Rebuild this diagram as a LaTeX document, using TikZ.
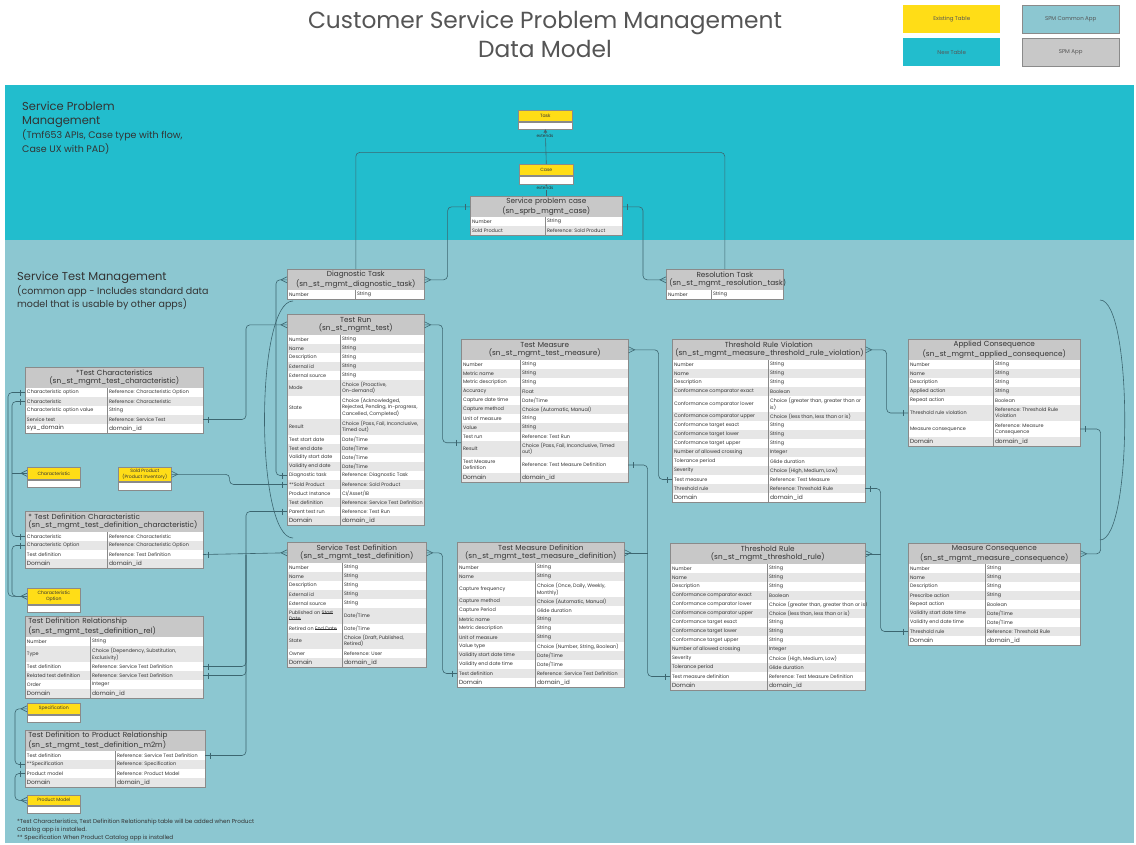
\documentclass[tikz,border=0pt]{standalone}
\usepackage{fontspec}
\setmainfont{Poppins}
\usetikzlibrary{calc,arrows.meta}
\definecolor{spmc}{HTML}{22BDCD}
\definecolor{stmc}{HTML}{8CC7D1}
\definecolor{yel}{HTML}{FFDD17}
\definecolor{hdrc}{HTML}{C8C8C8}
\definecolor{altc}{HTML}{E6E6E6}
\definecolor{bordc}{HTML}{8A8A8A}
\definecolor{linec}{HTML}{3C6670}
\definecolor{txtc}{HTML}{333333}
\definecolor{titlec}{HTML}{555555}
\newcommand\strk[1]{\setbox0=\hbox{#1}\rlap{\rule[0.27em]{\wd0}{0.3pt}}\box0}
\tikzset{
 hdr/.style={fill=hdrc, draw=bordc, line width=0.6pt, inner sep=0pt, font=\fontsize{7.3}{8.6}\selectfont, text=txtc},
 rowtxt/.style={inner sep=0pt, font=\fontsize{4.9}{5.8}\selectfont, text=txtc, align=left},
 domtxt/.style={inner sep=0pt, font=\fontsize{5.9}{7}\selectfont, text=txtc, align=left},
 tborder/.style={draw=bordc, line width=0.6pt},
 exist/.style={fill=yel, draw=bordc, line width=0.6pt, inner sep=0pt, font=\fontsize{4.6}{5.6}\selectfont, text=txtc, align=center, anchor=north west},
 exbody/.style={fill=white, draw=bordc, line width=0.6pt, inner sep=0pt, anchor=north},
 conn/.style={draw=linec, line width=0.6pt, rounded corners=4pt},
 legend/.style={inner sep=0pt, minimum width=97, minimum height=28, font=\fontsize{5.5}{6.5}\selectfont, text=titlec, anchor=north west},
 extl/.style={inner sep=0.5pt, fill=spmc, font=\fontsize{4.3}{5}\selectfont, text=txtc},
 rowsty/.style={rowtxt},
}
\newcommand\tbl[7]{%
  \xdef\tname{#1}\xdef\tx{#2}\xdef\tw{#4}\xdef\tsp{#5}\xdef\ytop{#3}%
  \pgfmathsetmacro\tmp{#3+21}\xdef\cury{\tmp}\xdef\rowi{0}%
  \pgfmathsetmacro\hw{#4-6}%
  \node[hdr, minimum width=#4, minimum height=21, anchor=north west, text width=\hw pt, align=#7] (#1) at (#2,#3) {#6};%
}
\newcommand\erow[3]{%
  \pgfmathsetmacro\rh{ifthenelse(#3==2,16,ifthenelse(#3==3,23,9))}%
  \pgfmathtruncatemacro\ri{\rowi+1}\xdef\rowi{\ri}%
  \pgfmathsetmacro\my{\cury+\rh/2}%
  \ifodd\ri\relax\def\rfc{white}\else\def\rfc{altc}\fi
  \ifnum#3=0 \tikzset{rowsty/.style={domtxt}}\else\tikzset{rowsty/.style={rowtxt}}\fi
  \fill[\rfc] (\tx,\cury) rectangle ++(\tw,\rh);
  \node[rowsty, anchor=west] at (\tx+1.8,\my) {#1};
  \node[rowsty, anchor=west] at (\tx+\tsp+1.8,\my) {#2};
  \coordinate (\tname-l\ri) at (\tx,\my);
  \coordinate (\tname-r\ri) at (\tx+\tw,\my);
  \pgfmathsetmacro\tmp{\cury+\rh}\xdef\cury{\tmp}%
}
\newcommand\tend{%
  \draw[tborder] (\tx+\tsp,\ytop+21) -- (\tx+\tsp,\cury);
  \draw[tborder] (\tx,\ytop) rectangle (\tx+\tw,\cury);
}
\newcommand\crowW[1]{\draw[linec, line width=0.6pt] ($(#1)+(0,-3)$) -- ($(#1)+(-6,0)$) -- ($(#1)+(0,3)$);}
\newcommand\crowE[1]{\draw[linec, line width=0.6pt] ($(#1)+(0,-3)$) -- ($(#1)+(6,0)$) -- ($(#1)+(0,3)$);}
\newcommand\tickW[1]{\draw[linec, line width=0.6pt] ($(#1)+(-5,-3)$) -- ($(#1)+(-5,3)$);}
\newcommand\tickE[1]{\draw[linec, line width=0.6pt] ($(#1)+(5,-3)$) -- ($(#1)+(5,3)$);}
\newcommand\exbox[7]{% name x y w hh bh text
  \node[exist, minimum width=#4, minimum height=#5] (#1) at (#2,#3) {#7};
  \node[exbody, minimum width=#4, minimum height=#6] (#1b) at (#1.south) {};
}
\begin{document}
\begin{tikzpicture}[x=1pt,y=-1pt]
\useasboundingbox (0,0) rectangle (1136,844);
\fill[white] (0,0) rectangle (1136,844);
% regions
\fill[spmc] (5,85) rectangle (1134,240);
\fill[stmc] (5,240) rectangle (1134,843);
% title
\node[font=\fontsize{23.3}{29}\selectfont, text=titlec, align=center] (title) at (545,34) {Customer Service Problem Management\\Data Model};
% legend
\node[legend, fill=yel] (lg1) at (903,5) {Existing Table};
\node[legend, fill=spmc] (lg2) at (903,38) {New Table};
\node[legend, fill=stmc, draw=bordc] (lg3) at (1022,5) {SPM Common App};
\node[legend, fill=hdrc, draw=bordc] (lg4) at (1022,38) {SPM App};
% region labels
\node[anchor=north west, align=left, inner sep=0pt, text=txtc, font=\fontsize{11.5}{14}\selectfont] (spmlbl) at (22,102) {Service Problem\\Management\\{\fontsize{9.5}{14}\selectfont(Tmf653 APIs, Case type with flow,}\\{\fontsize{9.5}{14}\selectfont Case UX with PAD)}};
\node[anchor=north west, align=left, inner sep=0pt, text=txtc, font=\fontsize{11.5}{13.5}\selectfont] (stmlbl) at (17,272) {Service Test Management\\{\fontsize{9.5}{13.5}\selectfont(common app - Includes standard data}\\{\fontsize{9.5}{13.5}\selectfont model that is usable by other apps)}};
% footer
\node[anchor=north west, align=left, inner sep=0pt, text=txtc, font=\fontsize{5.75}{8}\selectfont] (foot) at (17,819) {*Test Characteristics, Test Definition Relationship table will be added when Product\\Catalog app is installed.\\** Specification When Product Catalog app is installed};

% decorative arcs
\coordinate (aL1) at (293,301); \coordinate (aL2) at (293,538);
\draw[linec, line width=0.6pt] (aL1) .. controls (255,301) and (255,538) .. (aL2);
\coordinate (aR1) at (1100,300); \coordinate (aR2) at (1100,540);
\draw[linec, line width=0.6pt] (aR1) .. controls (1133,300) and (1133,540) .. (aR2);

% existing tables
\exbox{task}{518}{110}{54}{11}{7}{Task}
\exbox{case}{519}{164}{54}{11}{8}{Case}
\exbox{charh}{27}{467}{53}{12}{7}{Characteristic}
\exbox{soldh}{118}{467}{53}{14}{8}{Sold Product\\(Product Inventory)}
\exbox{choh}{27}{588}{53}{16}{7}{Characteristic\\Option}
\exbox{spech}{27}{703}{53}{11}{7}{Specification}
\exbox{pmh}{27}{795}{53}{10}{7}{Product Model}

% tables
\tbl{spc}{470}{196}{152}{75}{Service problem case\\(sn\_sprb\_mgmt\_case)}{center}
\erow{Number}{String}{1}
\erow{Sold Product}{Reference: Sold Product}{1}
\tend

\tbl{diag}{287}{269}{137}{68}{Diagnostic Task\\(sn\_st\_mgmt\_diagnostic\_task)}{center}
\erow{Number}{String}{1}
\tend

\tbl{res}{666}{269}{117}{45}{Resolution Task\\(sn\_st\_mgmt\_resolution\_task)}{center}
\erow{Number}{String}{1}
\tend

\tbl{trun}{287}{314}{137}{53}{Test Run\\(sn\_st\_mgmt\_test)}{center}
\erow{Number}{String}{1}
\erow{Name}{String}{1}
\erow{Description}{String}{1}
\erow{External id}{String}{1}
\erow{External source}{String}{1}
\erow{Mode}{Choice (Proactive,\\On-demand)}{2}
\erow{State}{Choice (Acknowledged,\\Rejected, Pending, In-progress,\\Cancelled, Completed)}{3}
\erow{Result}{Choice (Pass, Fail, Inconclusive,\\Timed out)}{2}
\erow{Test start date}{Date/Time}{1}
\erow{Test end date}{Date/Time}{1}
\erow{Validity start date}{Date/Time}{1}
\erow{Validity end date}{Date/Time}{1}
\erow{Diagnostic task}{Reference: Diagnostic Task}{1}
\erow{**Sold Product}{Reference: Sold Product}{1}
\erow{Product Instance}{CI/Asset/IB}{1}
\erow{Test definition}{Reference: Service Test Definition}{1}
\erow{Parent test run}{Reference: Test Run}{1}
\erow{Domain}{domain\_id}{0}
\tend

\tbl{tm}{461}{339}{167}{59}{Test Measure\\(sn\_st\_mgmt\_test\_measure)}{center}
\erow{Number}{String}{1}
\erow{Metric name}{String}{1}
\erow{Metric description}{String}{1}
\erow{Accuracy}{Float}{1}
\erow{Capture date time}{Date/Time}{1}
\erow{Capture method}{Choice (Automatic, Manual)}{1}
\erow{Unit of measure}{String}{1}
\erow{Value}{String}{1}
\erow{Test run}{Reference: Test Run}{1}
\erow{Result}{Choice (Pass, Fail, Inconclusive, Timed\\out)}{2}
\erow{Test Measure\\Definition}{Reference:  Test Measure Definition}{2}
\erow{Domain}{domain\_id}{0}
\tend

\tbl{trv}{672}{339}{193}{96}{Threshold Rule Violation\\(sn\_st\_mgmt\_measure\_threshold\_rule\_violation)}{center}
\erow{Number}{String}{1}
\erow{Name}{String}{1}
\erow{Description}{String}{1}
\erow{Conformance comparator exact}{Boolean}{1}
\erow{Conformance comparator lower}{Choice (greater than, greater than or\\is)}{2}
\erow{Conformance comparator upper}{Choice (less than, less than or is)}{1}
\erow{Conformance target exact}{String}{1}
\erow{Conformance target lower}{String}{1}
\erow{Conformance target upper}{String}{1}
\erow{Number of allowed crossing}{Integer}{1}
\erow{Tolerance period}{Glide duration}{1}
\erow{Severity}{Choice (High, Medium, Low)}{1}
\erow{Test measure}{Reference: Test Measure}{1}
\erow{Threshold rule}{Reference: Threshold Rule}{1}
\erow{Domain}{domain\_id}{0}
\tend

\tbl{ac}{908}{339}{172}{85}{Applied Consequence\\(sn\_st\_mgmt\_applied\_consequence)}{center}
\erow{Number}{String}{1}
\erow{Name}{String}{1}
\erow{Description}{String}{1}
\erow{Applied action}{String}{1}
\erow{Repeat action}{Boolean}{1}
\erow{Threshold rule violation}{Reference: Threshold Rule\\Violation}{2}
\erow{Measure consequence}{Reference: Measure\\Consequence}{2}
\erow{Domain}{domain\_id}{0}
\tend

\tbl{tc}{25}{367}{178}{82}{*Test Characteristics\\(sn\_st\_mgmt\_test\_characteristic)}{center}
\erow{Characteristic option}{Reference: Characteristic Option}{1}
\erow{Characteristic}{Reference: Characteristic}{1}
\erow{Characteristic option value}{String}{1}
\erow{Service test}{Reference: Service Test}{1}
\erow{sys\_domain}{domain\_id}{0}
\tend

\tbl{tdc}{25}{511}{178}{82}{* Test Definition Characteristic\\(sn\_st\_mgmt\_test\_definition\_characteristic)}{left}
\erow{Characteristic}{Reference: Characteristic}{1}
\erow{Characteristic Option}{Reference: Characteristic Option}{1}
\erow{Test definition}{Reference: Test Definition}{1}
\erow{Domain}{domain\_id}{0}
\tend

\tbl{tdr}{25}{616}{178}{65}{Test Definition Relationship\\(sn\_st\_mgmt\_test\_definition\_rel)}{left}
\erow{Number}{String}{1}
\erow{Type}{Choice (Dependency, Substitution,\\Exclusivity)}{2}
\erow{Test definition}{Reference: Service Test Definition}{1}
\erow{Related test definition}{Reference: Service Test Definition}{1}
\erow{Order}{Integer}{1}
\erow{Domain}{domain\_id}{0}
\tend

\tbl{tdp}{25}{730}{180}{90}{Test Definition to Product Relationship\\(sn\_st\_mgmt\_test\_definition\_m2m)}{left}
\erow{Test definition}{Reference: Service Test Definition}{1}
\erow{**Specification}{Reference: Specification}{1}
\erow{Product model}{Reference: Product Model}{1}
\erow{Domain}{domain\_id}{0}
\tend

\tbl{std}{287}{542}{139}{55}{Service Test Definition\\(sn\_st\_mgmt\_test\_definition)}{center}
\erow{Number}{String}{1}
\erow{Name}{String}{1}
\erow{Description}{String}{1}
\erow{External id}{String}{1}
\erow{External source}{String}{1}
\erow{Published on \strk{Start}\\\strk{Date}}{Date/Time}{2}
\erow{Retired on \strk{End Date}}{Date/Time}{1}
\erow{State}{Choice (Draft, Published,\\Retired)}{2}
\erow{Owner}{Reference: User}{1}
\erow{Domain}{domain\_id}{0}
\tend

\tbl{tmd}{457}{542}{167}{78}{Test Measure Definition\\(sn\_st\_mgmt\_test\_measure\_definition)}{center}
\erow{Number}{String}{1}
\erow{Name}{String}{1}
\erow{Capture frequency}{Choice (Once, Daily, Weekly,\\Monthly)}{2}
\erow{Capture method}{Choice (Automatic, Manual)}{1}
\erow{Capture Period}{Glide duration}{1}
\erow{Metric name}{String}{1}
\erow{Metric description}{String}{1}
\erow{Unit of measure}{String}{1}
\erow{Value type}{Choice (Number, String, Boolean)}{1}
\erow{Validity start date time}{Date/Time}{1}
\erow{Validity end date time}{Date/Time}{1}
\erow{Test definition}{Reference: Service Test Definition}{1}
\erow{Domain}{domain\_id}{0}
\tend

\tbl{tr}{670}{543}{195}{97}{Threshold Rule\\(sn\_st\_mgmt\_threshold\_rule)}{center}
\erow{Number}{String}{1}
\erow{Name}{String}{1}
\erow{Description}{String}{1}
\erow{Conformance comparator exact}{Boolean}{1}
\erow{Conformance comparator lower}{Choice (greater than, greater than or is)}{1}
\erow{Conformance comparator upper}{Choice (less than, less than or is)}{1}
\erow{Conformance target exact}{String}{1}
\erow{Conformance target lower}{String}{1}
\erow{Conformance target upper}{String}{1}
\erow{Number of allowed crossing}{Integer}{1}
\erow{Severity}{Choice (High, Medium, Low)}{1}
\erow{Tolerance period}{Glide duration}{1}
\erow{Test measure definition}{Reference: Test Measure Definition}{1}
\erow{Domain}{domain\_id}{0}
\tend

\tbl{mc}{908}{543}{172}{77}{Measure Consequence\\(sn\_st\_mgmt\_measure\_consequence)}{center}
\erow{Number}{String}{1}
\erow{Name}{String}{1}
\erow{Description}{String}{1}
\erow{Prescribe action}{String}{1}
\erow{Repeat action}{Boolean}{1}
\erow{Validity start date time}{Date/Time}{1}
\erow{Validity end date time}{Date/Time}{1}
\erow{Threshold rule}{Reference: Threshold Rule}{1}
\erow{Domain}{domain\_id}{0}
\tend

% ---------- connectors ----------
\coordinate (jT) at ($(taskb.south)!0.667!(case.north)$);
\draw[conn] (diag.north) |- (jT) -| (res.north);
\draw[conn, -{Triangle[width=3.5pt,length=3.5pt]}] (case.north) -- (taskb.south);
\node[extl] (ext1) at (545,136) {extends};
\draw[conn, -{Triangle[width=3.5pt,length=3.5pt]}] (spc.north) -- (caseb.south);
\node[extl] (ext2) at (545,188) {extends};

\draw[conn] (diag.east) -- ($(diag.east)+(23,0)$) |- (spc.west);
\crowE{diag.east} \tickW{spc.west}
\draw[conn] (res.west) -- ($(res.west)+(-23,0)$) |- (spc.east);
\crowW{res.west} \tickE{spc.east}

\draw[conn] (diag.west) -- ($(diag.west)+(-11,0)$) |- (trun-l13);
\crowW{diag.west} \tickW{trun-l13}
\draw[conn] (trun.west) -- ($(trun.west)+(-41,0)$) |- (tc-r4);
\crowW{trun.west} \tickE{tc-r4}
\draw[conn] (soldh.east) -- ($(soldh.east)+(58,0)$) |- (trun-l14);
\crowE{soldh.east} \tickW{trun-l14}

\coordinate (tmrun) at ($(tm-l9)!0.5!(tm-l10)$);
\draw[conn] (trun.east) -- ($(trun.east)+(18,0)$) |- (tmrun);
\crowE{trun.east} \tickW{tmrun}
\draw[conn] (tm.east) -- ($(tm.east)+(30,0)$) |- (trv-l13);
\crowE{tm.east} \tickW{trv-l13}
\coordinate (jA) at ($(tmd.east)+(23,0)$);
\draw[conn] (tmd.east) -- (jA);
\draw[conn] (tm-r11) -| (jA) |- (tr-l13);
\crowE{tmd.east} \tickE{tm-r11} \tickW{tr-l13}
\draw[conn] (std.east) -- ($(std.east)+(16,0)$) |- (tmd-l12);
\crowE{std.east} \tickW{tmd-l12}
\draw[conn] (trv.east) -- ($(trv.east)+(21,0)$) |- (ac-l6);
\crowE{trv.east} \tickW{ac-l6}
\coordinate (jB) at ($(tr.east)+(15,0)$);
\draw[conn] (tr.east) -- (jB);
\draw[conn] (trv-r14) -| (jB) |- (mc-l8);
\crowE{tr.east} \tickE{trv-r14} \tickW{mc-l8}
\draw[conn] (mc.east) -- ($(mc.east)+(20,0)$) |- (ac-r7);
\crowE{mc.east} \tickE{ac-r7}

% left side
\draw[conn] (tc-l2) -- ($(tc-l2)+(-13,0)$) |- (tdc-l1);
\draw[conn] (charh.west) -- ($(charh.west)+(-15,0)$);
\crowW{charh.west} \tickW{tc-l2} \tickW{tdc-l1}
\draw[conn] (tc-l1) -- ($(tc-l1)+(-17,0)$) |- (choh.west);
\draw[conn] (tdc-l2) -- ($(tdc-l2)+(-13,0)$) |- (choh.west);
\crowW{choh.west} \tickW{tc-l1} \tickW{tdc-l2}
\draw[conn] (spech.west) -- ($(spech.west)+(-12,0)$) |- (tdp-l2);
\crowW{spech.west} \tickW{tdp-l2}
\draw[conn] (pmh.west) -- ($(pmh.west)+(-12,0)$) |- (tdp-l3);
\crowW{pmh.west} \tickW{tdp-l3}
\coordinate (jC) at ($(tdc-r3)+(43,0)$);
\draw[conn] (tdc-r3) -- (std.west);
\crowW{std.west}
\draw[conn] (trun-l17) -| (jC);
\draw[conn] (tdr-r3) -| (jC);
\draw[conn] (tdr-r4) -| (jC);
\draw[conn] (tdp-r1) -| (jC);
\tickW{trun-l17} \tickE{tdc-r3} \tickE{tdr-r3} \tickE{tdr-r4} \tickE{tdp-r1}
\end{tikzpicture}
\end{document}
